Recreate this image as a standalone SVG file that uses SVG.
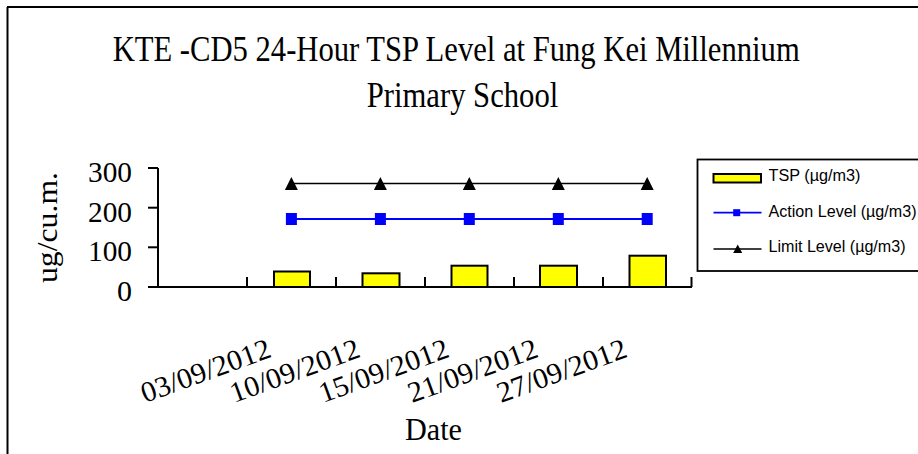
<svg xmlns="http://www.w3.org/2000/svg" width="918" height="454" viewBox="0 0 918 454">
<style>
.serif{font-family:"Liberation Serif","DejaVu Serif",serif;fill:#000}
.sans{font-family:"Liberation Sans",Arial,sans-serif;fill:#000;font-size:16px}
.bar{fill:#FFFF00;stroke:#000;stroke-width:2}
.ax{stroke:#000;stroke-width:2;fill:none}
.act{stroke:#0000FF;stroke-width:1.8;fill:none}
.lim{stroke:#000;stroke-width:1.6;fill:none}
</style>
<defs>
<rect id="sq" x="-5.5" y="-6" width="11" height="12" fill="#0000FF"/>
<path id="tri" d="M0,-6.5 L6.5,6.5 L-6.5,6.5 Z" fill="#000"/>
<rect id="sqs" x="-3.5" y="-3.5" width="7" height="7" fill="#0000FF"/>
<path id="tris" d="M0,-4.5 L4.5,4 L-4.5,4 Z" fill="#000"/>
</defs>
<rect width="918" height="454" fill="#fff"/>
<g id="frame">
<line x1="7" y1="7" x2="918" y2="7" stroke="#000" stroke-width="2"/>
<line x1="7.5" y1="7" x2="7.5" y2="454" stroke="#000" stroke-width="2"/>
</g>
<g id="title">
<text class="serif" x="112.7" y="61" font-size="35" textLength="687" lengthAdjust="spacingAndGlyphs">KTE -CD5 24-Hour TSP Level at Fung Kei Millennium</text>
<text class="serif" x="366.7" y="107" font-size="35" textLength="191.6" lengthAdjust="spacingAndGlyphs">Primary School</text>
</g>
<g id="y-axis">
<line class="ax" x1="158" y1="168" x2="158" y2="287"/>
<line class="ax" x1="148" y1="168" x2="158" y2="168"/>
<line class="ax" x1="148" y1="207.7" x2="158" y2="207.7"/>
<line class="ax" x1="148" y1="247.3" x2="158" y2="247.3"/>
<g class="serif" font-size="30" text-anchor="end">
<text x="132" y="182" textLength="44" lengthAdjust="spacingAndGlyphs">300</text>
<text x="132" y="221.5" textLength="44" lengthAdjust="spacingAndGlyphs">200</text>
<text x="132" y="261" textLength="44" lengthAdjust="spacingAndGlyphs">100</text>
<text x="132" y="300.5">0</text>
</g>
<text class="serif" font-size="29" transform="translate(57,283) rotate(-90)" textLength="111" lengthAdjust="spacingAndGlyphs">ug/cu.m.</text>
</g>
<g id="x-axis">
<line class="ax" x1="148" y1="287" x2="692" y2="287"/>
<g class="ax">
<line x1="247" y1="277" x2="247" y2="287"/>
<line x1="336" y1="277" x2="336" y2="287"/>
<line x1="425" y1="277" x2="425" y2="287"/>
<line x1="514" y1="277" x2="514" y2="287"/>
<line x1="603" y1="277" x2="603" y2="287"/>
<line x1="691.5" y1="277" x2="691.5" y2="287"/>
</g>
<g class="serif" font-size="29">
<text transform="translate(145,403) rotate(-20)" textLength="136" lengthAdjust="spacingAndGlyphs">03/09/2012</text>
<text transform="translate(234,403) rotate(-20)" textLength="136" lengthAdjust="spacingAndGlyphs">10/09/2012</text>
<text transform="translate(323,403) rotate(-20)" textLength="136" lengthAdjust="spacingAndGlyphs">15/09/2012</text>
<text transform="translate(412,403) rotate(-20)" textLength="136" lengthAdjust="spacingAndGlyphs">21/09/2012</text>
<text transform="translate(501,403) rotate(-20)" textLength="136" lengthAdjust="spacingAndGlyphs">27/09/2012</text>
</g>
<text class="serif" x="405" y="440" font-size="32" textLength="57" lengthAdjust="spacingAndGlyphs">Date</text>
</g>
<g id="series-tsp">
<rect class="bar" x="274" y="271.5" width="36" height="15.5"/>
<rect class="bar" x="362.5" y="273.3" width="37" height="13.7"/>
<rect class="bar" x="451.5" y="265.7" width="36" height="21.3"/>
<rect class="bar" x="540" y="265.7" width="37" height="21.3"/>
<rect class="bar" x="629.5" y="255.7" width="36.5" height="31.3"/>
</g>
<g id="connectors">
<g id="series-action">
<polyline class="act" points="291.4,219 380.4,219 469.3,219 558.3,219 647.2,219"/>
<use href="#sq" x="291.4" y="219"/>
<use href="#sq" x="380.4" y="219"/>
<use href="#sq" x="469.3" y="219"/>
<use href="#sq" x="558.3" y="219"/>
<use href="#sq" x="647.2" y="219"/>
</g>
<g id="series-limit">
<polyline class="lim" points="291.4,183.5 380.4,183.5 469.3,183.5 558.3,183.5 647.2,183.5"/>
<use href="#tri" x="291.4" y="183.5"/>
<use href="#tri" x="380.4" y="183.5"/>
<use href="#tri" x="469.3" y="183.5"/>
<use href="#tri" x="558.3" y="183.5"/>
<use href="#tri" x="647.2" y="183.5"/>
</g>
</g>
<g id="legend">
<rect x="697.5" y="159.5" width="230" height="111.5" fill="#fff" stroke="#000" stroke-width="1.8"/>
<rect class="bar" x="713.5" y="174" width="47.5" height="8.5"/>
<text class="sans" x="768.5" y="180.7" textLength="92" lengthAdjust="spacingAndGlyphs">TSP (µg/m3)</text>
<line class="act" x1="713.5" y1="212.7" x2="761.5" y2="212.7"/>
<use href="#sqs" x="736.7" y="212.7"/>
<text class="sans" x="768.5" y="216.8" textLength="148" lengthAdjust="spacingAndGlyphs">Action Level (µg/m3)</text>
<line class="lim" x1="713.5" y1="249" x2="761.5" y2="249"/>
<use href="#tris" x="737.7" y="249"/>
<text class="sans" x="768.5" y="252.4" textLength="137" lengthAdjust="spacingAndGlyphs">Limit Level (µg/m3)</text>
</g>
</svg>
